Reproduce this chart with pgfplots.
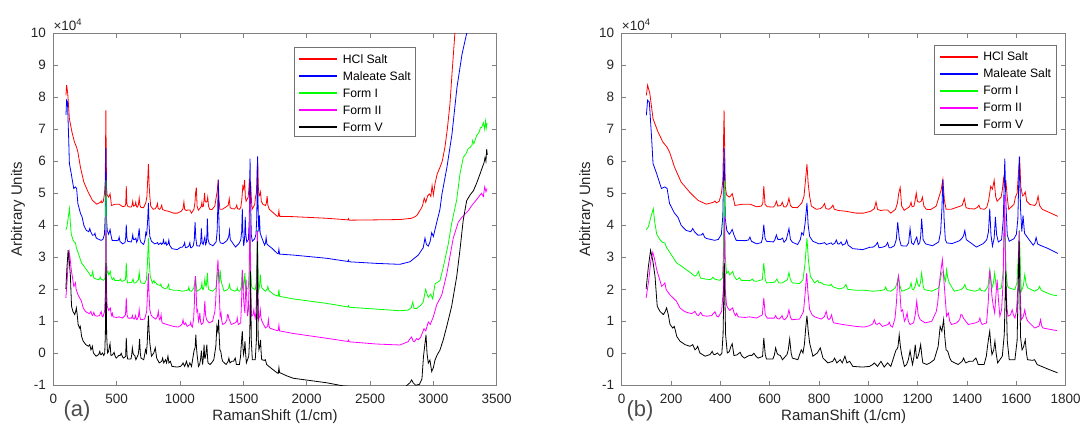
\documentclass[border=0pt]{standalone}
\usepackage{fontspec}
\setmainfont{Liberation Sans}
\usepackage{pgfplots}
\usepackage{pgfplotstable}
\pgfplotsset{compat=1.18}
\definecolor{cred}{rgb}{1,0,0}
\definecolor{cblue}{rgb}{0,0,1}
\definecolor{cgreen}{rgb}{0,1,0}
\definecolor{cmag}{rgb}{1,0,1}
\definecolor{cblack}{rgb}{0,0,0}
\definecolor{ctext}{rgb}{0.15,0.15,0.15}

\pgfplotstableread{
x y
100 8.06
105 8.38
114 8.12
127 7.33
147 6.92
167 6.60
183 6.45
194 6.29
214 5.82
241 5.35
275 5.04
309 4.78
343 4.66
372 4.72
378 4.76
384 4.70
395 4.75
404 4.99
410 5.4
415 7.59
420 5.2
425 4.95
436 4.88
442 4.92
448 4.99
454 4.80
459 4.62
490 4.66
520 4.66
547 4.58
566 4.60
572 4.68
576 5.22
581 4.66
590 4.58
615 4.57
621 4.62
627 4.75
633 4.60
645 4.62
651 4.72
657 4.58
665 4.57
672 4.65
678 4.85
684 4.62
692 4.56
712 4.55
730 4.70
739 4.9
745 5.4
751 5.91
756 5.3
762 4.9
769 4.60
789 4.50
805 4.52
815 4.58
822 4.68
828 4.52
840 4.50
850 4.56
856 4.63
862 4.50
880 4.46
908 4.44
950 4.38
980 4.38
1010 4.44
1024 4.52
1031 4.73
1037 4.50
1050 4.46
1064 4.48
1078 4.48
1091 4.38
1110 4.5
1118 4.7
1123 5.0
1129 5.18
1135 4.6
1145 4.47
1165 4.57
1169 4.62
1173 4.72
1177 4.58
1185 4.6
1190 4.8
1194 5.01
1199 4.75
1206 4.72
1214 4.75
1219 4.88
1225 4.60
1235 4.50
1252 4.49
1275 4.6
1286 4.88
1295 5.1
1302 5.43
1308 4.8
1315 4.50
1335 4.50
1358 4.56
1380 4.62
1389 4.83
1396 4.55
1410 4.52
1430 4.51
1442 4.56
1448 4.63
1454 4.52
1470 4.50
1480 4.56
1488 4.8
1496 5.22
1503 5.13
1510 5.41
1516 4.9
1522 4.75
1538 4.88
1543 5.1
1548 5.46
1553 5.2
1558 5.34
1564 4.8
1569 4.50
1590 4.65
1596 4.88
1603 5.0
1608 5.6
1613 6.13
1618 5.2
1625 4.92
1630 4.95
1636 5.04
1642 4.75
1655 4.65
1675 4.62
1682 4.70
1688 4.91
1694 4.62
1705 4.50
1734 4.40
1768 4.28
1776 4.29
1781 4.45
1786 4.28
1894 4.27
2157 4.22
2325 4.17
2330 4.21
2335 4.16
2551 4.17
2735 4.18
2830 4.22
2868 4.30
2900 4.50
2915 4.62
2928 4.85
2940 4.72
2955 4.92
2969 4.98
2980 4.90
2990 5.24
3000 4.95
3013 5.30
3030 5.60
3052 5.81
3070 6.0
3091 6.43
3110 7.0
3131 7.79
3150 8.9
3170 10.0
3185 10.8
}\hcl

\pgfplotstableread{
x y
100 7.44
105 7.91
112 7.85
121 6.76
127 5.93
141 5.63
161 5.15
175 5.20
184 5.15
194 4.68
214 4.38
228 4.25
241 4.00
261 3.84
280 3.80
288 3.90
295 3.80
309 3.69
323 3.70
329 3.75
336 3.63
343 3.59
377 3.53
392 3.56
404 3.72
410 4.3
415 6.42
420 4.2
426 3.84
436 3.72
442 3.78
448 3.87
455 3.70
464 3.53
500 3.52
514 3.54
520 3.63
526 3.50
547 3.42
566 3.46
571 3.60
576 4.02
581 3.60
587 3.50
615 3.48
621 3.55
627 3.70
633 3.56
645 3.56
652 3.60
658 3.47
667 3.55
672 3.70
678 3.90
684 3.56
692 3.47
713 3.40
724 3.55
730 3.77
737 3.70
744 4.1
751 4.70
756 4.0
762 3.65
775 3.50
800 3.42
815 3.44
822 3.46
830 3.40
849 3.45
855 3.40
864 3.44
870 3.54
876 3.42
883 3.42
889 3.48
895 3.38
906 3.42
912 3.54
918 3.38
937 3.27
977 3.24
1004 3.31
1020 3.32
1030 3.38
1037 3.46
1043 3.30
1060 3.32
1071 3.36
1078 3.46
1084 3.30
1091 3.30
1105 3.36
1113 3.55
1119 4.10
1125 3.6
1133 3.36
1155 3.35
1163 3.45
1169 3.90
1175 3.45
1183 3.40
1191 3.55
1196 3.63
1202 3.40
1208 3.45
1212 3.65
1216 4.21
1222 3.55
1232 3.42
1260 3.36
1285 3.48
1293 3.8
1298 4.5
1302 5.43
1307 4.2
1312 3.55
1318 3.45
1340 3.43
1370 3.52
1380 3.60
1386 3.68
1391 3.84
1397 3.55
1410 3.48
1438 3.32
1466 3.43
1480 3.55
1487 3.8
1492 4.52
1497 3.7
1503 3.35
1510 3.6
1515 4.26
1520 3.7
1527 3.48
1540 3.55
1547 4.2
1553 6.08
1558 4.6
1563 3.7
1571 3.50
1590 3.58
1600 3.72
1606 4.2
1612 6.15
1617 4.5
1622 3.8
1627 4.31
1633 3.75
1645 3.62
1668 3.38
1675 3.45
1680 3.62
1686 3.42
1695 3.38
1730 3.27
1768 3.12
1776 3.11
1781 3.25
1786 3.10
1894 3.07
2157 2.97
2325 2.87
2330 2.91
2335 2.86
2551 2.81
2735 2.78
2815 2.86
2881 3.07
2920 3.30
2934 3.60
2945 3.40
2960 3.35
2975 3.50
2987 3.77
3000 3.65
3021 4.00
3052 4.50
3068 4.98
3107 5.81
3147 6.85
3186 8.30
3226 9.34
3263 10.00
3280 10.60
}\maleate

\pgfplotstableread{
x y
99 3.86
108 3.95
118 4.25
128 4.52
134 4.1
142 3.72
155 3.55
165 3.47
175 3.45
182 3.3
196 3.14
223 2.82
243 2.72
260 2.62
277 2.53
297 2.41
304 2.45
311 2.56
317 2.4
320 2.35
340 2.32
358 2.30
365 2.33
370 2.38
376 2.32
398 2.28
408 2.35
412 3.0
416 5.40
420 3.0
425 2.5
432 2.56
438 2.45
444 2.5
450 2.56
456 2.4
466 2.30
478 2.36
484 2.28
520 2.27
530 2.32
536 2.26
546 2.25
570 2.3
576 2.82
582 2.3
587 2.20
620 2.22
629 2.32
637 2.2
650 2.2
672 2.3
678 2.53
684 2.3
692 2.20
721 2.18
735 2.3
743 2.8
751 3.60
757 2.9
765 2.40
782 2.20
795 2.28
800 2.2
806 2.22
819 2.15
845 2.12
849 2.16
855 2.08
882 2.01
900 2.05
909 2.15
916 2.0
950 1.97
985 1.97
1017 1.94
1050 1.96
1065 1.99
1070 2.07
1076 1.96
1091 1.94
1109 2.04
1116 2.2
1122 2.41
1128 2.1
1135 1.94
1155 1.99
1168 2.05
1173 2.20
1178 2.0
1183 1.99
1190 2.1
1196 2.32
1201 2.15
1206 2.09
1211 2.2
1216 2.51
1222 2.1
1227 1.99
1257 1.94
1284 2.04
1292 2.3
1297 2.51
1304 2.56
1310 2.3
1313 2.25
1317 2.61
1322 2.35
1328 2.2
1348 1.94
1375 1.99
1385 2.05
1391 2.15
1397 2.02
1402 1.99
1432 1.94
1448 1.98
1452 2.04
1457 1.96
1472 1.94
1485 2.09
1492 2.61
1497 2.3
1501 2.04
1507 2.2
1512 2.51
1518 2.1
1523 1.99
1539 2.04
1547 2.6
1553 4.4
1558 2.6
1564 2.1
1571 2.04
1594 1.99
1602 2.2
1607 2.9
1612 3.85
1617 2.5
1620 1.94
1628 2.1
1634 2.46
1640 2.15
1647 2.04
1674 1.94
1688 2.0
1694 2.09
1700 1.98
1708 1.94
1742 1.83
1765 1.80
1776 1.79
1781 2.00
1786 1.78
1894 1.70
2157 1.56
2325 1.45
2330 1.49
2335 1.44
2551 1.38
2735 1.33
2800 1.35
2825 1.42
2837 1.60
2848 1.40
2868 1.40
2900 1.50
2920 1.60
2939 2.00
2950 1.85
2960 1.75
2979 1.85
2995 1.70
3013 2.17
3052 2.27
3078 2.69
3118 3.42
3144 4.05
3184 4.79
3210 5.60
3236 6.12
3260 6.25
3275 6.40
3289 6.43
3305 6.50
3310 6.65
3320 6.55
3341 6.80
3360 6.90
3372 7.05
3381 7.06
3395 7.20
3405 7.00
3412 7.26
3418 7.05
3424 7.20
}\formI

\pgfplotstableread{
x y
99 1.73
110 2.3
118 2.9
126 3.16
133 2.95
142 2.61
162 2.09
170 2.15
175 2.20
180 2.0
195 1.83
210 1.72
222 1.63
236 1.42
250 1.33
263 1.28
284 1.24
297 1.31
305 1.2
311 1.18
320 1.28
328 1.18
344 1.16
365 1.18
372 1.25
378 1.30
385 1.16
392 1.14
405 1.31
412 2.0
416 4.28
420 2.0
425 1.5
430 1.42
438 1.34
444 1.38
450 1.42
456 1.25
461 1.18
466 1.25
472 1.14
500 1.12
519 1.14
546 1.10
570 1.2
576 1.73
582 1.2
590 1.10
618 1.10
624 1.18
630 1.09
638 1.07
645 1.12
650 1.18
655 1.07
661 1.05
672 1.15
678 1.36
684 1.12
690 1.05
721 1.07
730 1.2
737 1.31
744 1.9
750 2.51
755 1.9
762 1.36
772 1.2
782 1.14
809 1.07
822 1.15
829 1.31
835 1.1
840 1.05
846 1.1
851 1.20
856 1.0
860 0.95
896 0.90
950 0.84
983 0.82
1004 0.86
1018 0.92
1024 1.05
1030 0.92
1035 0.90
1044 0.95
1057 0.84
1080 0.90
1085 0.97
1090 0.86
1098 0.82
1108 1.1
1114 1.6
1118 2.2
1122 2.41
1127 2.0
1133 1.31
1139 1.36
1146 1.0
1152 1.1
1157 1.26
1162 1.0
1169 0.90
1183 0.95
1190 1.2
1196 1.63
1202 1.2
1210 1.05
1230 0.95
1257 1.0
1275 1.3
1281 1.57
1286 2.0
1291 2.41
1300 2.93
1305 2.4
1311 1.78
1317 1.16
1324 1.26
1330 1.0
1337 0.90
1358 0.95
1370 1.05
1375 1.21
1380 1.2
1385 1.10
1405 0.90
1434 0.95
1448 1.0
1452 1.10
1456 0.98
1461 0.90
1479 0.95
1486 1.6
1492 2.61
1497 2.2
1501 1.78
1506 1.5
1512 1.26
1517 1.8
1522 2.30
1527 1.7
1533 1.16
1540 1.36
1546 2.2
1552 4.95
1557 2.3
1562 1.4
1566 1.16
1576 1.2
1583 1.36
1588 1.2
1594 1.10
1600 1.3
1606 2.0
1611 3.82
1615 2.0
1620 1.05
1628 1.15
1634 1.36
1640 1.1
1647 1.00
1674 0.79
1692 0.85
1698 1.05
1703 0.85
1708 0.79
1742 0.74
1765 0.71
1776 0.72
1781 0.88
1786 0.70
1894 0.62
2157 0.47
2325 0.37
2330 0.41
2335 0.36
2551 0.29
2735 0.26
2800 0.36
2815 0.45
2829 0.51
2840 0.38
2850 0.36
2868 0.46
2880 0.42
2900 0.50
2926 0.77
2940 0.70
2960 0.98
2975 0.90
3000 1.14
3026 1.51
3066 1.82
3105 2.46
3157 3.60
3197 4.10
3225 4.25
3250 4.35
3275 4.45
3300 4.60
3320 4.70
3341 4.80
3360 4.90
3380 5.00
3395 4.90
3405 5.20
3415 5.05
3424 5.15
}\formII

\pgfplotstableread{
x y
99 2.01
108 2.7
117 3.22
126 2.9
135 2.41
144 1.47
155 1.31
169 1.21
176 1.3
182 1.42
189 1.2
196 0.90
207 0.79
213 0.84
218 0.7
223 0.53
236 0.38
257 0.27
277 0.22
288 0.27
297 0.11
303 0.15
308 0.22
313 0.1
317 0.01
338 -0.09
358 -0.04
367 0.06
372 -0.03
378 -0.04
388 0.01
398 -0.07
406 0.0
411 0.6
416 2.82
421 0.6
428 0.01
436 0.05
442 0.2
448 0.30
455 -0.07
467 -0.05
480 0.03
487 -0.08
497 -0.15
519 -0.06
527 -0.07
536 0.00
545 -0.1
553 -0.15
571 -0.1
576 0.48
582 -0.05
587 -0.18
613 -0.18
619 -0.05
624 0.17
630 0.0
634 -0.04
643 -0.07
652 -0.20
670 -0.04
675 0.1
681 0.45
687 0.0
692 -0.15
714 -0.20
728 0.11
735 0.01
741 0.3
746 0.8
751 1.18
756 0.7
762 0.32
775 -0.09
793 0.01
805 0.17
816 -0.15
836 -0.30
856 -0.25
863 -0.15
872 -0.30
886 -0.20
894 -0.30
905 -0.09
913 -0.30
924 -0.25
937 -0.41
977 -0.43
1004 -0.41
1018 -0.35
1024 -0.30
1037 -0.41
1051 -0.25
1064 -0.43
1078 -0.30
1091 -0.41
1106 -0.04
1112 0.1
1115 0.12
1120 0.2
1125 0.58
1130 0.2
1135 -0.04
1146 -0.41
1155 -0.35
1162 -0.2
1169 0.08
1175 -0.2
1179 -0.35
1185 -0.1
1190 0.27
1195 -0.15
1199 -0.15
1205 0.0
1212 0.27
1217 -0.1
1221 -0.30
1237 -0.35
1250 -0.30
1267 -0.20
1283 0.22
1291 0.84
1298 0.69
1305 1.05
1310 0.5
1315 0.11
1322 0.06
1330 -0.15
1337 -0.25
1364 -0.35
1380 -0.25
1386 -0.15
1391 -0.25
1395 -0.30
1409 -0.25
1424 -0.25
1429 -0.20
1436 -0.15
1441 -0.25
1445 -0.35
1469 -0.35
1478 -0.1
1483 0.22
1489 0.55
1492 0.69
1497 0.2
1501 -0.04
1508 0.1
1513 0.38
1518 0.0
1524 -0.30
1543 -0.09
1551 0.6
1557 2.56
1563 0.4
1571 -0.20
1594 -0.20
1603 0.4
1611 3.50
1617 0.5
1623 0.11
1629 0.2
1636 0.42
1641 0.0
1645 -0.20
1665 -0.22
1674 -0.20
1684 -0.35
1727 -0.49
1767 -0.61
1776 -0.63
1781 -0.45
1786 -0.60
1840 -0.70
1894 -0.78
2026 -0.85
2157 -0.92
2289 -1.02
2400 -1.06
2600 -1.09
2780 -1.04
2815 -0.92
2829 -0.83
2840 -0.92
2860 -1.00
2890 -0.97
2910 -0.80
2922 -0.1
2934 0.31
2942 0.58
2950 0.0
2960 -0.31
2973 -0.21
2987 -0.57
3000 -0.45
3013 -0.21
3030 -0.05
3052 0.10
3078 0.42
3105 0.83
3144 1.46
3184 2.39
3210 3.23
3236 4.17
3263 4.77
3290 4.95
3316 5.08
3340 5.30
3368 5.60
3390 5.85
3400 5.95
3408 6.12
3415 6.00
3421 6.38
3426 6.20
}\formV

\pgfplotsset{
  panel/.style={
    scale only axis, height=352pt,
    ymin=-1, ymax=10, ytick={-1,0,...,10},
    tick align=inside, xtick pos=both, ytick pos=both,
    xticklabel pos=lower, yticklabel pos=left,
    major tick length=4.5pt,
    axis line style={black!50, line width=0.7pt},
    every tick/.style={black!50, line width=0.7pt},
    tick label style={font=\fontsize{13.5}{16}\selectfont, text=ctext},
    /pgf/number format/assume math mode=true,
    /pgf/number format/1000 sep={},
    scaled ticks=false,
    xticklabel shift=5pt, yticklabel shift=4pt,
    xlabel={RamanShift (1/cm)}, ylabel={Arbitrary Units},
    label style={font=\fontsize{15}{18}\selectfont, text=ctext},
    xlabel style={at={(axis description cs:0.5,-0.09)}, anchor=center},
    ylabel style={at={(axis description cs:-0.0796,0.5)}, anchor=center},
    every axis plot/.append style={line width=0.8pt},
  }
}

% key box: frame and filled colour bars first, then all texts
\newcommand{\keyframe}[2]{%
  \draw[black!55, line width=0.7pt, fill=white] (#1,#2) rectangle ++(121.4,-89);
  \fill[cred]   (#1+5,#2-10.6) rectangle ++(38,-2);
  \fill[cblue]  (#1+5,#2-27.6) rectangle ++(38,-2);
  \fill[cgreen] (#1+5,#2-44.6) rectangle ++(38,-2);
  \fill[cmag]   (#1+5,#2-61.6) rectangle ++(38,-2);
  \fill[cblack] (#1+5,#2-78.6) rectangle ++(38,-2);}
\newcommand{\keytext}[2]{%
  \begin{scope}[every node/.style={anchor=base west, inner sep=0pt,
      font=\fontsize{12.2}{14}\selectfont, text=black}]
  \node at (#1+48.4,#2-15.9) {HCl Salt};
  \node at (#1+48.4,#2-32.9) {Maleate Salt};
  \node at (#1+48.4,#2-49.9) {Form I};
  \node at (#1+48.4,#2-66.9) {Form II};
  \node at (#1+48.4,#2-83.9) {Form V};
  \end{scope}}

\begin{document}
\begin{tikzpicture}[x=1pt,y=1pt]
\useasboundingbox (0,0) rectangle (1083,429);

\begin{axis}[panel, name=L, at={(53.3pt,43.7pt)}, anchor=south west,
  width=443.4pt, xmin=0, xmax=3500, xtick={0,500,...,3500}]
\addplot[draw=cred] table[x=x,y=y] {\hcl};
\addplot[draw=cblue] table[x=x,y=y] {\maleate};
\addplot[draw=cgreen] table[x=x,y=y] {\formI};
\addplot[draw=cmag] table[x=x,y=y] {\formII};
\addplot[draw=cblack] table[x=x,y=y] {\formV};
\end{axis}

\begin{axis}[panel, name=R, at={(621.7pt,43.7pt)}, anchor=south west,
  width=444pt, xmin=0, xmax=1800, xtick={0,200,...,1800},
  restrict x to domain=0:1770]
\addplot[draw=cred] table[x=x,y=y] {\hcl};
\addplot[draw=cblue] table[x=x,y=y] {\maleate};
\addplot[draw=cgreen] table[x=x,y=y] {\formI};
\addplot[draw=cmag] table[x=x,y=y] {\formII};
\addplot[draw=cblack] table[x=x,y=y] {\formV};
\end{axis}

\keyframe{294.3}{381.3}
\keyframe{934.7}{384}
\keytext{294.3}{381.3}
\keytext{934.7}{384}

\node[anchor=base west, inner sep=0pt, font=\fontsize{13.5}{16}\selectfont, text=ctext]
  at ([yshift=3pt]L.north west) {×10\textsuperscript{4}};
\node[anchor=base west, inner sep=0pt, font=\fontsize{13.5}{16}\selectfont, text=ctext]
  at ([yshift=3pt]R.north west) {×10\textsuperscript{4}};
\node[font=\fontsize{22}{26}\selectfont, text=black!70] at (77,18) {(a)};
\node[font=\fontsize{22}{26}\selectfont, text=black!70] at (640,18) {(b)};
\end{tikzpicture}
\end{document}
